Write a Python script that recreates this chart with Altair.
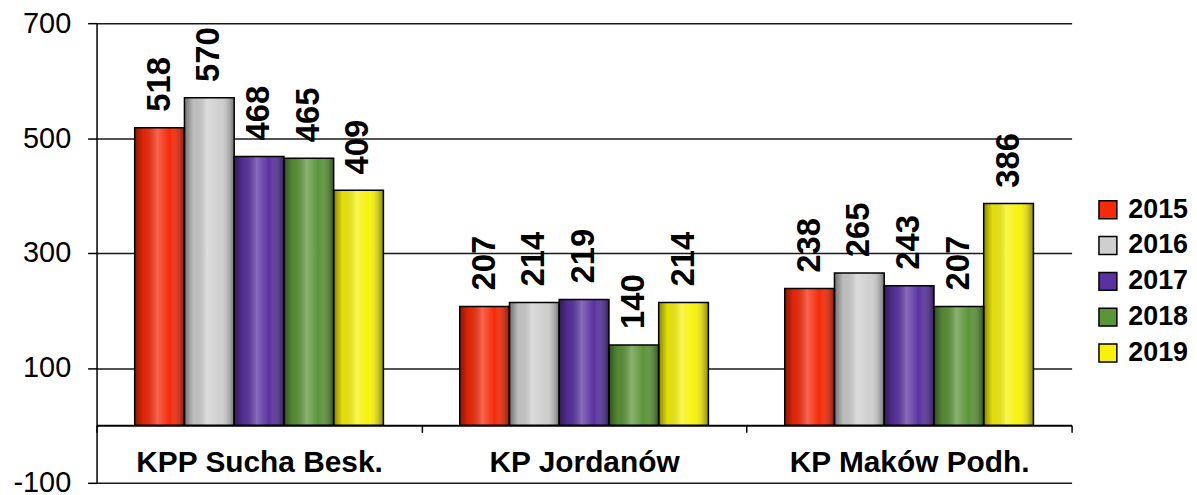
import altair as alt
import pandas as pd

categories = ["KPP Sucha Besk.", "KP Jordanów", "KP Maków Podh."]
years = ["2015", "2016", "2017", "2018", "2019"]
v2015 = [518, 207, 238]
v2016 = [570, 214, 265]
v2017 = [468, 219, 243]
v2018 = [465, 140, 207]
v2019 = [409, 214, 386]
colors = ["#F52A0A", "#CFCFCF", "#5A32A0", "#5C9438", "#F7F20C"]
y_ticks = [-100, 100, 300, 500, 700]

series = [v2015, v2016, v2017, v2018, v2019]
rows = []
for yi, yr in enumerate(years):
    for ci, cat in enumerate(categories):
        rows.append({"cat": cat, "year": yr, "value": series[yi][ci]})
df = pd.DataFrame(rows)

FONT = "Liberation Sans"

x_enc = alt.X(
    "cat:N",
    sort=categories,
    scale=alt.Scale(paddingInner=0, paddingOuter=0),
    axis=alt.Axis(
        title=None,
        orient="bottom",
        offset=-57.75,
        domainColor="black",
        domainWidth=2,
        tickColor="black",
        tickWidth=1.5,
        tickSize=7,
        tickBand="extent",
        labelFont=FONT,
        labelFontSize=30,
        labelFontWeight="bold",
        labelColor="black",
        labelPadding=15,
        labelAngle=0,
        labelLimit=500,
        grid=False,
    ),
)
xoff = alt.XOffset("year:N", sort=years, scale=alt.Scale(paddingInner=0, paddingOuter=0.767))
y_enc = alt.Y(
    "value:Q",
    scale=alt.Scale(domain=[-100, 700], nice=False, zero=False),
    axis=alt.Axis(
        title=None,
        values=y_ticks,
        labelExpr="'' + datum.value",
        domainColor="black",
        domainWidth=1.5,
        tickColor="black",
        tickWidth=1.5,
        tickSize=9,
        gridColor="#1a1a1a",
        gridWidth=1.5,
        gridOpacity=1,
        labelFont=FONT,
        labelFontSize=29,
        labelColor="black",
        labelPadding=17,
    ),
)

base = alt.Chart(df)

bars = base.mark_bar(strokeWidth=0).encode(
    x=x_enc,
    xOffset=xoff,
    y=y_enc,
    y2=alt.datum(0),
    color=alt.Color(
        "year:N",
        sort=years,
        scale=alt.Scale(domain=years, range=colors),
        legend=alt.Legend(
            title=None,
            orient="none",
            legendX=1003,
            legendY=174,
            symbolType="square",
            symbolSize=324,
            symbolStrokeColor="black",
            symbolStrokeWidth=1.5,
            symbolOpacity=1,
            labelFont=FONT,
            labelFontSize=27,
            labelFontWeight="bold",
            labelColor="black",
            labelOffset=7,
            labelLimit=200,
            rowPadding=8,
        ),
    ),
)

shade = alt.Gradient(
    gradient="linear",
    x1=0, x2=1, y1=0, y2=0,
    stops=[
        alt.GradientStop(color="rgba(0,0,0,0.45)", offset=0),
        alt.GradientStop(color="rgba(0,0,0,0.08)", offset=0.18),
        alt.GradientStop(color="rgba(255,255,255,0.28)", offset=0.45),
        alt.GradientStop(color="rgba(255,255,255,0.0)", offset=0.7),
        alt.GradientStop(color="rgba(0,0,0,0.45)", offset=1),
    ],
)

overlay = base.mark_bar(fill=shade, stroke="black", strokeWidth=1.5).encode(
    x=alt.X("cat:N", sort=categories),
    xOffset=xoff,
    y=alt.Y("value:Q"),
    y2=alt.datum(0),
)

labels = base.mark_text(
    angle=270,
    align="left",
    baseline="middle",
    dx=16,
    font=FONT,
    fontSize=33,
    fontWeight="bold",
    color="black",
).encode(
    x=alt.X("cat:N", sort=categories),
    xOffset=xoff,
    y=alt.Y("value:Q"),
    text="value:Q",
)

chart = (
    alt.layer(bars, overlay, labels)
    .properties(
        width=980,
        height=462,
        autosize=alt.AutoSizeParams(type="none"),
        padding={"left": 89, "top": 14, "right": 118, "bottom": 10},
        background="white",
    )
    .configure_view(strokeWidth=0)
)

chart.save("out.html", embed_options={"renderer": "svg", "actions": False})
